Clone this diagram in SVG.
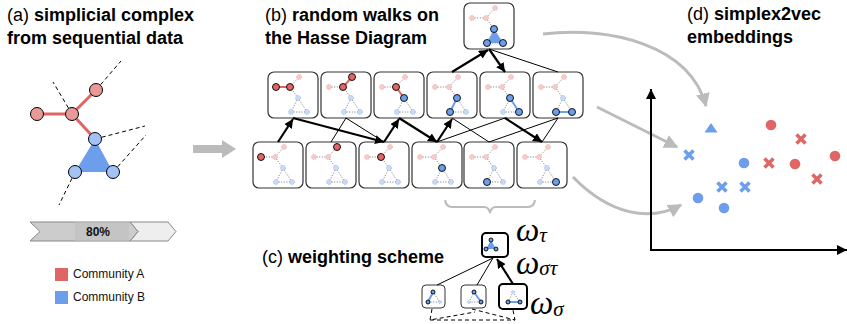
<svg xmlns="http://www.w3.org/2000/svg" xmlns:xlink="http://www.w3.org/1999/xlink" width="847" height="324" viewBox="0 0 847 324">
<style>
.title{font-family:"Liberation Sans",Arial,sans-serif;font-size:18px;fill:#000}
.b{font-weight:bold}
.leg{font-family:"Liberation Sans",Arial,sans-serif;font-size:12px;fill:#111}
.om{font-family:"Liberation Serif","DejaVu Serif",serif;font-style:italic;fill:#000}
.box{fill:#fff;stroke:#333;stroke-width:1.2}
.fe{stroke:#555;stroke-width:0.8;stroke-dasharray:1 1.6;fill:none}
.fr{fill:#f4cccc;stroke:#e6a3a3;stroke-width:0.8;stroke-dasharray:1 1}
.fb{fill:#c9daf8;stroke:#8fb0e3;stroke-width:0.8;stroke-dasharray:1 1}
.hr{fill:#e06666;stroke:#000;stroke-width:0.9}
.hb{fill:#6d9eeb;stroke:#000;stroke-width:0.9}
.er{stroke:#e06666;stroke-width:2;fill:none}
.eb{stroke:#6d9eeb;stroke-width:2;fill:none}
.thin{stroke:#000;stroke-width:1;fill:none}
.bold{stroke:#000;stroke-width:2.2;fill:none}
.gray{stroke:#bbb;stroke-width:3;fill:none}
.dash{stroke:#000;stroke-width:1;stroke-dasharray:4 3;fill:none}
.pr{fill:#e06666}
.pb{fill:#6d9eeb}
.xr{stroke:#e06666;stroke-width:3.5;fill:none}
.xb{stroke:#6d9eeb;stroke-width:3.5;fill:none}
</style>
<defs>
<marker id="ah" viewBox="0 0 10 10" refX="10" refY="5" markerWidth="9" markerHeight="9" markerUnits="userSpaceOnUse" orient="auto"><path d="M0,0 L10,5 L0,10 z" fill="#000"/></marker>
<marker id="gh" viewBox="0 0 10 10" refX="9" refY="5" markerWidth="14" markerHeight="14" markerUnits="userSpaceOnUse" orient="auto"><path d="M0,0 L10,5 L0,10 z" fill="#bbb"/></marker>
<marker id="axh" viewBox="0 0 10 10" refX="10" refY="5" markerWidth="12" markerHeight="10" markerUnits="userSpaceOnUse" orient="auto"><path d="M0,0 L10,5 L0,10 z" fill="#000"/></marker>
<g id="base">
<rect class="box" x="0" y="0" width="50" height="46" rx="6"/>
<path class="fe" d="M8,15 L22,15 M22,15 L31,5 M22,15 L30,26 M30,26 L23,40 M30,26 L39,40 M23,40 L39,40"/>
<circle class="fr" cx="8" cy="15" r="2.5"/><circle class="fr" cx="22" cy="15" r="2.5"/><circle class="fr" cx="31" cy="5" r="2.5"/>
<circle class="fb" cx="30" cy="26" r="2.5"/><circle class="fb" cx="23" cy="40" r="2.5"/><circle class="fb" cx="39" cy="40" r="2.5"/>
</g>
<g id="sbase">
<path class="fe" d="M11,7 L6,17 M11,7 L18,17 M6,17 L18,17"/>
<circle class="fb" cx="11" cy="7" r="1.6"/><circle class="fb" cx="6" cy="17" r="1.6"/><circle class="fb" cx="18" cy="17" r="1.6"/>
</g>
</defs>

<!-- titles -->
<text class="title" x="7" y="21">(a) <tspan class="b">simplicial complex</tspan></text>
<text class="title b" x="7" y="44">from sequential data</text>
<text class="title" x="265" y="21">(b) <tspan class="b">random walks on</tspan></text>
<text class="title b" x="265" y="44">the Hasse Diagram</text>
<text class="title" x="687" y="20">(d) <tspan class="b">simplex2vec</tspan></text>
<text class="title b" x="687" y="43">embeddings</text>
<text class="title" x="262" y="263">(c) <tspan class="b">weighting scheme</tspan></text>

<!-- panel a: simplicial complex -->
<g id="complex">
<path class="dash" d="M96,90 L121,61 M72,114 L53,82 M95,139 L145,126 M113,172 L146,135 M75,172 L59,205"/>
<polygon points="95,139 75,172 113,172" fill="#6d9eeb"/>
<path stroke="#e06666" stroke-width="3" fill="none" d="M37,114 L72,114 M72,114 L96,90 M72,114 L95,139"/>
<circle cx="37" cy="114" r="6.5" fill="#ea9999" stroke="#000"/>
<circle cx="72" cy="114" r="6.5" fill="#ea9999" stroke="#000"/>
<circle cx="96" cy="90" r="6.5" fill="#ea9999" stroke="#000"/>
<circle cx="95" cy="139" r="6.5" fill="#a4c2f4" stroke="#000"/>
<circle cx="75" cy="172" r="6.5" fill="#a4c2f4" stroke="#000"/>
<circle cx="113" cy="172" r="6.5" fill="#a4c2f4" stroke="#000"/>
</g>

<!-- progress bar -->
<g id="progress">
<polygon points="130,222 168,222 176,231.5 168,241 130,241 138,231.5" fill="#eee" stroke="#888" stroke-width="1"/>
<polygon points="30,222 130,222 138,231.5 130,241 30,241 40,231.5" fill="#ccc" stroke="#888" stroke-width="1"/>
<rect x="75" y="222.5" width="54" height="18" fill="#c4c4c4"/>
<text x="86" y="236" style="font-family:'Liberation Sans',Arial,sans-serif;font-size:12px;font-weight:bold" fill="#111">80%</text>
</g>

<!-- legend -->
<g id="legend">
<rect x="55" y="268" width="13" height="13" fill="#e06666"/>
<text class="leg" x="73" y="278">Community A</text>
<rect x="55" y="291" width="13" height="13" fill="#6d9eeb"/>
<text class="leg" x="73" y="301">Community B</text>
</g>

<!-- big gray arrow -->
<polygon id="bigarrow" points="193,145 222,145 222,140 236,149 222,158 222,153 193,153" fill="#bbb"/>

<!-- Hasse diagram nodes -->
<g id="tau" transform="translate(464,3)">
<use xlink:href="#base"/>
<polygon points="30,26 23,40 39,40" fill="#6d9eeb"/>
<circle class="hb" cx="30" cy="26" r="3.5"/><circle class="hb" cx="23" cy="40" r="3.5"/><circle class="hb" cx="39" cy="40" r="3.5"/>
</g>
<g id="t1" transform="translate(268,72)"><use xlink:href="#base"/><path class="er" d="M8,15 L22,15"/><circle class="hr" cx="8" cy="15" r="3.5"/><circle class="hr" cx="22" cy="15" r="3.5"/></g>
<g id="t2" transform="translate(321,72)"><use xlink:href="#base"/><path class="er" d="M22,15 L31,5"/><circle class="hr" cx="22" cy="15" r="3.5"/><circle class="hr" cx="31" cy="5" r="3.5"/></g>
<g id="t3" transform="translate(374,72)"><use xlink:href="#base"/><path class="er" d="M22,15 L30,26"/><circle class="hr" cx="22" cy="15" r="3.5"/><circle class="hb" cx="30" cy="26" r="3.5"/></g>
<g id="t4" transform="translate(427,72)"><use xlink:href="#base"/><path class="eb" d="M30,26 L23,40"/><circle class="hb" cx="30" cy="26" r="3.5"/><circle class="hb" cx="23" cy="40" r="3.5"/></g>
<g id="t5" transform="translate(480,72)"><use xlink:href="#base"/><path class="eb" d="M30,26 L39,40"/><circle class="hb" cx="30" cy="26" r="3.5"/><circle class="hb" cx="39" cy="40" r="3.5"/></g>
<g id="t6" transform="translate(533,72)"><use xlink:href="#base"/><path class="eb" d="M23,40 L39,40"/><circle class="hb" cx="23" cy="40" r="3.5"/><circle class="hb" cx="39" cy="40" r="3.5"/></g>
<g id="b1" transform="translate(253,142)"><use xlink:href="#base"/><circle class="hr" cx="8" cy="15" r="3.5"/></g>
<g id="b2" transform="translate(306,142)"><use xlink:href="#base"/><circle class="hr" cx="31" cy="5" r="3.5"/></g>
<g id="b3" transform="translate(359,142)"><use xlink:href="#base"/><circle class="hr" cx="22" cy="15" r="3.5"/></g>
<g id="b4" transform="translate(412,142)"><use xlink:href="#base"/><circle class="hb" cx="30" cy="26" r="3.5"/></g>
<g id="b5" transform="translate(464,142)"><use xlink:href="#base"/><circle class="hb" cx="23" cy="40" r="3.5"/></g>
<g id="b6" transform="translate(517,142)"><use xlink:href="#base"/><circle class="hb" cx="39" cy="40" r="3.5"/></g>

<!-- connectors -->
<g id="connectors">
<path class="thin" d="M346,118 L331,142 M346,118 L384,142 M452,118 L489,142 M437,142 L505,118 M558,118 L489,142 M558,118 L542,142 M489,49 L558,72"/>
<path class="bold" marker-end="url(#ah)" d="M278,142 L293,119"/>
<path class="bold" marker-end="url(#ah)" d="M293,118 L384,142"/>
<path class="bold" marker-end="url(#ah)" d="M384,142 L399,119"/>
<path class="bold" marker-end="url(#ah)" d="M399,118 L437,142"/>
<path class="bold" marker-end="url(#ah)" d="M437,142 L452,119"/>
<path class="bold" marker-end="url(#ah)" d="M452,72 L488,50"/>
<path class="bold" marker-end="url(#ah)" d="M489,49 L505,72"/>
<path class="bold" marker-end="url(#ah)" d="M505,118 L542,142"/>
<path class="gray" marker-end="url(#gh)" d="M543,34 C610,26 690,45 706,106"/>
<path class="gray" marker-end="url(#gh)" d="M597,107 L677,147"/>
<path class="gray" marker-end="url(#gh)" d="M573,177 C610,215 650,222 681,205"/>
</g>

<!-- brace -->
<path id="brace" d="M445,200 Q446,207 452,207 L484,207 Q489,207 490,213 Q491,207 496,207 L528,207 Q534,207 535,200" stroke="#bbb" stroke-width="2" fill="none"/>

<!-- panel c -->
<g id="c-top" transform="translate(482,233)">
<rect x="0" y="0" width="26" height="24" rx="4" fill="#fff" stroke="#000" stroke-width="2"/>
<polygon points="9,7 4,16 14,16" fill="#6d9eeb"/>
<circle class="hb" cx="9" cy="7" r="2" stroke-width="0.7"/><circle class="hb" cx="4" cy="16" r="2" stroke-width="0.7"/><circle class="hb" cx="14" cy="16" r="2" stroke-width="0.7"/>
</g>
<g id="c-s1" transform="translate(422,285)">
<rect x="0" y="0" width="23" height="23" rx="4" fill="#fff" stroke="#333" stroke-width="1"/>
<use xlink:href="#sbase"/>
<path class="eb" stroke-width="1.5" d="M11,7 L6,17"/>
<circle class="hb" cx="11" cy="7" r="2" stroke-width="0.7"/><circle class="hb" cx="6" cy="17" r="2" stroke-width="0.7"/>
</g>
<g id="c-s2" transform="translate(461,285)">
<rect x="0" y="0" width="25" height="23" rx="4" fill="#fff" stroke="#333" stroke-width="1"/>
<use xlink:href="#sbase" transform="translate(2,0)"/>
<path class="eb" stroke-width="1.5" d="M13,7 L20,17"/>
<circle class="hb" cx="13" cy="7" r="2" stroke-width="0.7"/><circle class="hb" cx="20" cy="17" r="2" stroke-width="0.7"/>
</g>
<g id="c-s3" transform="translate(499,284)">
<rect x="0" y="0" width="28" height="25" rx="4" fill="#fff" stroke="#000" stroke-width="2"/>
<use xlink:href="#sbase" transform="translate(3,1)"/>
<path class="eb" stroke-width="1.5" d="M9,18 L21,18"/>
<circle class="hb" cx="9" cy="18" r="2" stroke-width="0.7"/><circle class="hb" cx="21" cy="18" r="2" stroke-width="0.7"/>
</g>
<g id="c-connectors">
<path class="thin" d="M437,285 L493,258 M477,285 L493,258"/>
<path class="bold" marker-end="url(#ah)" d="M513,284 L497,259"/>
<path class="dash" stroke-width="0.9" d="M432,309 L430,320 L475,312 M430,320 L515,320 L513,310 M472,309 L515,320"/>
</g>
<text class="om" x="516" y="241" font-size="33">ω<tspan font-size="21" dy="1">τ</tspan></text>
<text class="om" x="516" y="274" font-size="33">ω<tspan font-size="21" dy="1">στ</tspan></text>
<text class="om" x="530" y="314" font-size="33">ω<tspan font-size="21" dy="2">σ</tspan></text>

<!-- panel d -->
<g id="axes">
<path d="M651,250 L651,89" stroke="#000" stroke-width="2" fill="none" marker-end="url(#axh)"/>
<path d="M650,250 L847,250" stroke="#000" stroke-width="2" fill="none" marker-end="url(#axh)"/>
</g>
<g id="points">
<polygon class="pb" points="711,123 704.5,132.5 717.5,132.5"/>
<path class="xb" d="M684.5,150.5 l9,9 m0,-9 l-9,9 M717.5,182.5 l9,9 m0,-9 l-9,9 M740.5,182.5 l9,9 m0,-9 l-9,9"/>
<circle class="pb" cx="744" cy="163" r="5.3"/>
<circle class="pb" cx="698" cy="198" r="5.3"/>
<circle class="pb" cx="724" cy="208" r="5.3"/>
<circle class="pr" cx="771" cy="125" r="5.3"/>
<circle class="pr" cx="795" cy="164" r="5.3"/>
<circle class="pr" cx="835" cy="156" r="5.3"/>
<path class="xr" d="M796.5,134.5 l9,9 m0,-9 l-9,9 M764.5,158.5 l9,9 m0,-9 l-9,9 M812.5,174.5 l9,9 m0,-9 l-9,9"/>
</g>
</svg>
